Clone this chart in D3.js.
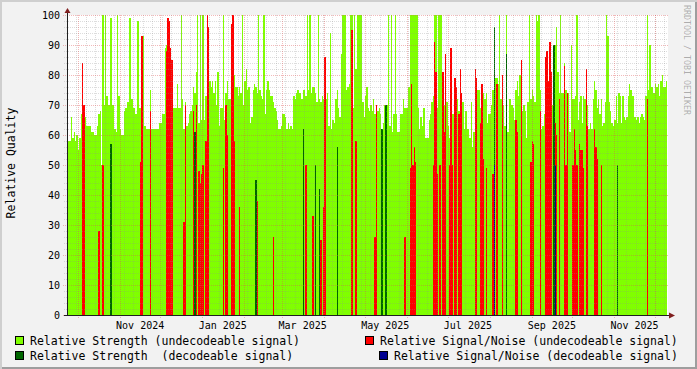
<!DOCTYPE html>
<html>
<head>
<meta charset="utf-8">
<script src="https://cdn.jsdelivr.net/npm/d3@7"></script>
<style>
    body { margin: 0; background: #f2f2f2; }
    svg { display: block; font-family: 'DejaVu Sans Mono', monospace; }
</style>
</head>
<body>
<svg></svg>
<script>
    var width = 697,
        height = 369;

    // First day of the series (one value per day)
    var startDay = new Date(Date.UTC(2024, 8, 23));

    // Relative Strength (undecodeable signal), one value per day
    var strengthUndec = [
        69,58,58,66,59,61,58,60,55,59, 67,66,66,66,63,63,63,63,61,61,
        60,60,63,67,68,50,100,70,100,73, 70,70,99,70,70,62,61,100,73,62,
        60,60,68,69,71,71,99,72,72,69, 67,67,98,69,69,83,93,63,62,62,
        62,75,62,62,62,62,62,62,64,64, 67,67,89,90,90,90,88,66,69,69,
        69,77,69,69,100,72,62,
        71,63,64,67,68,70,76,74,81,100, 64,100,65,100,65,73,100,96,78,76,
        78,74,78,70,81,63,69,69,100,65, 74,78,72,72,73,80,80,76,76,73,
        76,74,100,70,78,82,75,76,64,66, 75,77,76,74,100,75,73,72,100,67,
        75,78,75,73,73,71,69,68,65,62, 62,63,67,67,66,62,64,62,63,62,
        73,72,74,75,74,74,72,75,75,
        73,100,75,100,74,76,76,74,71,100, 72,71,73,72,70,72,74,63,94,62,
        65,64,72,75,69,66,87,100,100,100, 75,76,77,100,100,69,100,82,100,100,
        100,100,71,66,73,76,69,68,70,68, 72,67,70,68,69,67,57,64,70,70,
        70,100,63,100,61,67,100,67,61,61, 67,67,72,69,69,69,76,100,100,100,
        100,100,100,69,62,66,63,69,59,
        59,59,65,67,71,73,100,100,69,100, 100,100,62,70,72,71,63,59,64,67,
        67,70,69,72,68,68,71,71,62,68, 62,62,59,71,56,61,66,66,75,75,
        69,75,74,72,74,64,67,67,70,75, 76,79,79,77,100,72,72,70,63,100,
        61,72,72,70,69,65,75,78,73,80, 72,68,70,68,59,71,100,72,75,73,
        71,100,98,100,75,62,63,67,77,
        70,70,78,71,70,73,90,96,81,74, 100,74,74,84,75,74,74,61,90,72,
        72,73,100,65,71,73,64,73,72,63, 70,62,64,62,72,78,75,69,72,67,
        72,63,64,71,100,93,71,68,64,63, 65,73,64,74,73,64,73,66,65,66,
        73,77,75,73,73,66,65,66,64,66, 67,66,65,73,100,75,90,76,76,74,
        77,76,77,73,78,80,76,76,78
    ];

    // Relative Signal/Noise (undecodeable signal): day offsets and values
    var snrUndecDays = [
        11,12,23,26,54,55,61,73,74,75,76,77,86,87,93,95,97,98,99,100,
        102,103,104,115,117,118,121,122,123,127,140,152,176,181,187,189,190,210,213,227,
        228,249,253,254,255,256,257,270,271,272,273,275,277,278,279,282,283,284,286,287,
        289,290,291,301,302,305,306,307,309,314,317,321,331,332,335,342,343,344,349,353,
        354,355,356,357,360,361,363,367,368,369,373,374,375,376,378,379,380,381,383,384,
        389,390,391,394,428
    ];
    var snrUndecValues = [
        84,70,28,50,51,93,68,88,99,98,89,85,31,70,68,70,48,44,47,50,
        58,100,96,49,70,60,97,100,58,36,38,26,50,33,25,36,86,95,58,26,
        70,26,49,77,50,56,51,50,91,81,47,50,81,61,87,50,89,50,79,76,
        67,82,74,82,79,64,77,52,49,47,77,80,65,61,85,51,58,57,68,86,
        88,78,91,81,64,60,72,83,50,74,50,62,55,50,57,55,55,49,82,63,
        62,56,52,50,72
    ];

    // Relative Strength (decodeable signal)
    var strengthDecDays = [32,94,139,174,183,186,199,232,235,315,324,359,406];
    var strengthDecValues = [57,61,45,62,50,42,56,62,70,96,87,90,50];

    // Relative Signal/Noise (decodeable signal)
    var snrDecDays = [315,360];
    var snrDecValues = [50,50];

    var yTicks = [0,10,20,30,40,50,60,70,80,90,100];

    var legendItems = [
        { label: 'Relative Strength (undecodeable signal)', color: '#80ff00', x: 15, y: 336 },
        { label: 'Relative Signal/Noise (undecodeable signal)', color: '#ff0000', x: 365, y: 336 },
        { label: 'Relative Strength  (decodeable signal)', color: '#006600', x: 15, y: 351 },
        { label: 'Relative Signal/Noise (decodeable signal)', color: '#000090', x: 379, y: 351 }
    ];

    var nDays = strengthUndec.length;

    var x = d3.scaleUtc()
        .domain([startDay, d3.utcDay.offset(startDay, nDays)])
        .range([67, 667]);

    var y = d3.scaleLinear()
        .domain([0, 100])
        .range([315, 15]);

    // Spread sparse day/value lists over the full day range
    function dense(days, values) {
        var a = strengthUndec.map(function() { return 0; });
        days.forEach(function(d, i) { a[d] = values[i]; });
        return a;
    }

    var area = d3.area()
        .x(function(d, i) { return x(d3.utcDay.offset(startDay, i)); })
        .y0(y(0))
        .y1(function(d) { return y(d); })
        .curve(d3.curveStepAfter);

    // Repeat last value so the final step reaches the right edge
    function closed(a) {
        return a.concat([a[a.length - 1]]);
    }

    var svg = d3.select('svg')
        .attr('width', width)
        .attr('height', height);

    // Background and shading frame
    svg.append('rect')
        .attr('width', width)
        .attr('height', height)
        .attr('fill', '#f2f2f2');
    svg.append('path')
        .attr('d', 'M0,0H' + width + 'V2H2V' + height + 'H0Z')
        .attr('fill', '#cfcfcf');
    svg.append('path')
        .attr('d', 'M' + width + ',' + height + 'H2V' + (height - 2) + 'H' + (width - 2) + 'V2H' + width + 'Z')
        .attr('fill', '#9e9e9e');

    // Canvas
    svg.append('rect')
        .attr('x', 67)
        .attr('y', 15)
        .attr('width', 601)
        .attr('height', 300)
        .attr('fill', '#fff');

    var plot = svg.append('g')
        .attr('shape-rendering', 'crispEdges');

    plot.append('path')
        .attr('d', area(closed(strengthUndec)))
        .attr('fill', '#80ff00');
    plot.append('path')
        .attr('d', area(closed(dense(snrUndecDays, snrUndecValues))))
        .attr('fill', '#ff0000');
    plot.append('path')
        .attr('d', area(closed(dense(strengthDecDays, strengthDecValues))))
        .attr('fill', '#006600');
    plot.append('path')
        .attr('d', area(closed(dense(snrDecDays, snrDecValues))))
        .attr('fill', '#000090');

    // Grid (drawn over the data, like rrdtool)
    var grid = svg.append('g')
        .attr('shape-rendering', 'crispEdges')
        .attr('stroke-dasharray', '1,1');

    var minorColor = 'rgba(143,143,143,0.3)',
        majorColor = 'rgba(222,79,79,0.4)';

    d3.range(0, 101, 2).filter(function(v) { return v % 10 !== 0; }).forEach(function(v) {
        grid.append('line')
            .attr('x1', 64).attr('x2', 668)
            .attr('y1', Math.round(y(v)) + 0.5).attr('y2', Math.round(y(v)) + 0.5)
            .attr('stroke', minorColor);
    });

    var weeks = d3.utcMonday.range(x.domain()[0], x.domain()[1]);
    weeks.forEach(function(t) {
        var px = Math.round(x(t)) + 0.5;
        grid.append('line')
            .attr('x1', px).attr('x2', px)
            .attr('y1', 15).attr('y2', 317)
            .attr('stroke', minorColor);
    });

    yTicks.forEach(function(v) {
        grid.append('line')
            .attr('x1', 63).attr('x2', 668)
            .attr('y1', Math.round(y(v)) + 0.5).attr('y2', Math.round(y(v)) + 0.5)
            .attr('stroke', majorColor);
    });

    var months = d3.utcMonth.range(x.domain()[0], x.domain()[1]);
    months.forEach(function(t) {
        var px = Math.round(x(t)) + 0.5;
        grid.append('line')
            .attr('x1', px).attr('x2', px)
            .attr('y1', 15).attr('y2', 319)
            .attr('stroke', majorColor);
    });

    // Axes with arrows
    var axisColor = '#1f1f1f',
        arrowColor = '#801f1f';

    svg.append('line')
        .attr('x1', 67.5).attr('x2', 67.5)
        .attr('y1', 316).attr('y2', 12)
        .attr('stroke', axisColor)
        .attr('shape-rendering', 'crispEdges');
    svg.append('line')
        .attr('x1', 64).attr('x2', 671)
        .attr('y1', 315.5).attr('y2', 315.5)
        .attr('stroke', axisColor)
        .attr('shape-rendering', 'crispEdges');
    svg.append('path')
        .attr('d', 'M64.5,13L70.5,13L67.5,8Z')
        .attr('fill', arrowColor);
    svg.append('path')
        .attr('d', 'M669,312.5L669,318.5L675,315.5Z')
        .attr('fill', arrowColor);

    // Y tick labels
    svg.append('g').selectAll('text')
        .data(yTicks)
        .enter().append('text')
        .attr('x', 60)
        .attr('y', function(d) { return y(d) + 3.6; })
        .attr('text-anchor', 'end')
        .attr('font-size', '10px')
        .attr('fill', '#000')
        .text(function(d) { return d; });

    // X labels: every second month, centred mid-month
    var labelMonths = months.filter(function(t) { return t.getUTCMonth() % 2 === 0; });
    svg.append('g').selectAll('text')
        .data(labelMonths)
        .enter().append('text')
        .attr('x', function(d) { return x(d3.utcDay.offset(d, 15)); })
        .attr('y', 329)
        .attr('text-anchor', 'middle')
        .attr('font-size', '10px')
        .attr('fill', '#000')
        .text(d3.utcFormat('%b %Y'));

    // Vertical axis title
    svg.append('text')
        .attr('transform', 'translate(15,163)rotate(-90)')
        .attr('text-anchor', 'middle')
        .attr('font-size', '11.5px')
        .attr('fill', '#000')
        .text('Relative Quality');

    // Watermark
    svg.append('text')
        .attr('transform', 'translate(684,5)rotate(90)')
        .attr('font-size', '8.3px')
        .attr('fill', 'rgba(0,0,0,0.3)')
        .text('RRDTOOL / TOBI OETIKER');

    // Legend
    var legend = svg.append('g');
    legendItems.forEach(function(item) {
        legend.append('rect')
            .attr('x', item.x + 0.5)
            .attr('y', item.y + 0.5)
            .attr('width', 8)
            .attr('height', 8)
            .attr('fill', item.color)
            .attr('stroke', '#000')
            .attr('shape-rendering', 'crispEdges');
        legend.append('text')
            .attr('x', item.x + 15)
            .attr('y', item.y + 9)
            .attr('font-size', '11.5px')
            .attr('fill', '#000')
            .style('white-space', 'pre')
            .text(item.label);
    });
</script>
</body>
</html>
